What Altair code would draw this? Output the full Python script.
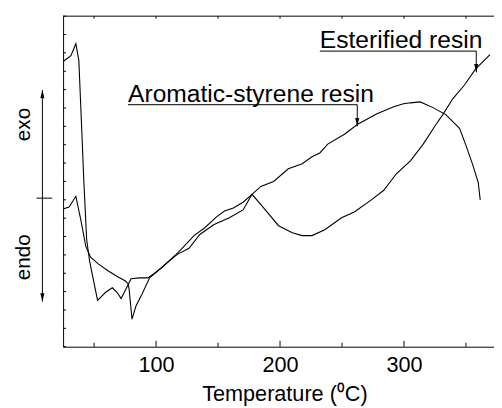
import altair as alt
import pandas as pd

# ---- data (temperature in degC, signal in tick units) ----
arom_t = [25.0, 31.3, 35.3, 37.7, 40.1, 41.7, 44.0, 46.4, 52.8, 59.1, 64.7, 68.7, 71.8, 75.8,
          79.8, 86.9, 93.3, 98.0, 105.2, 115.5, 121.0, 130.6, 139.3, 148.8, 155.2, 162.3,
          170.2, 177.4, 184.5, 194.8, 206.7, 217.9, 225.8, 232.1, 238.5, 252.0, 262.3,
          278.2, 291.7, 299.6, 305.2, 313.1, 323.4, 333.7, 344.8, 349.6, 355.2, 359.9, 361.5]
arom_v = [15.53, 15.85, 16.50, 15.59, 11.73, 9.05, 5.84, 4.66, 2.52, 2.95, 3.21, 2.95, 2.62, 3.16,
          3.70, 3.75, 3.75, 3.96, 4.34, 4.98, 5.36, 6.05, 6.48, 7.07, 7.39, 7.55,
          7.87, 8.30, 8.73, 9.00, 9.69, 9.96, 10.34, 10.55, 11.03, 11.57, 12.10,
          12.69, 13.07, 13.23, 13.28, 13.33, 13.02, 12.64, 11.89, 11.03, 9.96, 8.94, 7.98]

ester_t = [25.0, 29.8, 35.3, 39.3, 43.3, 47.2, 53.6, 61.5, 69.4, 75.0, 77.4, 78.2, 80.6, 83.7,
           88.5, 94.8, 101.2, 107.5, 117.1, 126.6, 135.3, 146.4, 159.1, 170.2, 177.4, 186.1,
           198.8, 209.9, 217.9, 225.8, 236.1, 244.0, 249.6, 259.9, 273.4, 283.7, 294.0,
           305.2, 315.5, 325.8, 331.3, 339.3, 348.8, 357.5, 364.7, 369.4]
ester_v = [7.50, 7.61, 8.19, 6.91, 5.46, 4.87, 4.50, 4.12, 3.80, 3.59, 3.43, 3.16, 1.50, 2.20,
           2.84, 3.75, 4.12, 4.50, 5.03, 5.36, 6.11, 6.64, 7.02, 7.45, 8.30, 7.61,
           6.59, 6.21, 6.05, 6.05, 6.37, 6.75, 7.02, 7.34, 7.98, 8.52, 9.43,
           10.12, 11.03, 12.10, 12.64, 13.50, 14.25, 15.10, 15.59, 15.91]

x_labels = [100, 200, 300]
x_minor = [50, 150, 250, 350]
top_ticks = [50, 100, 150, 200, 250, 300, 350]
y_ticks = list(range(0, 19))

labels = ["Aromatic-styrene resin", "Esterified resin"]
label_t = [77.4, 232.1]          # start of the underline
label_end_t = [262.3, 358.3]     # end of underline / arrow
label_v = [13.18, 16.1]          # underline level
label_tip = [12.0, 14.94]        # arrow tip on the curve

X_DOMAIN = [25, 372.6]
Y_DOMAIN = [0, 18]
FONT = "Liberation Sans"

xs = alt.Scale(domain=X_DOMAIN, nice=False, zero=False)
ys = alt.Scale(domain=Y_DOMAIN, nice=False, zero=False)

rows = []
for i, (t, v) in enumerate(zip(arom_t, arom_v)):
    rows.append({"series": "Aromatic-styrene resin", "t": t, "v": v, "i": i})
for i, (t, v) in enumerate(zip(ester_t, ester_v)):
    rows.append({"series": "Esterified resin", "t": t, "v": v, "i": i})
curves = pd.DataFrame(rows)

X_AXIS = alt.Axis(
    values=x_labels, ticks=False, grid=False, domainColor="black", domainWidth=1,
    labelFont=FONT, labelFontSize=22, labelColor="black", labelPadding=8,
    title="Temperature (⁰C)", titleFont=FONT, titleFontSize=22, titleFontWeight="normal",
    titleColor="black", titleY=55, titleBaseline="alphabetic", titleX=225, titleAlign="center")
Y_AXIS = alt.Axis(labels=False, ticks=False, grid=False, title=None,
                  domainColor="black", domainWidth=1)


def X(field):
    return alt.X(field, scale=xs, axis=X_AXIS)


def Y(field):
    return alt.Y(field, scale=ys, axis=Y_AXIS)


lines = alt.Chart(curves).mark_line(color="black", strokeWidth=1.1).encode(
    x=X("t:Q"), y=Y("v:Q"), detail="series:N", order="i:Q")

# inward ticks
left_t = alt.Chart(pd.DataFrame({"v": y_ticks})).mark_rule(color="black", strokeWidth=1).encode(
    y=Y("v:Q"), x=alt.value(0), x2=alt.value(3))
bot_major = alt.Chart(pd.DataFrame({"t": x_labels})).mark_rule(color="black", strokeWidth=1).encode(
    x=X("t:Q"), y=alt.value(336), y2=alt.value(330))
bot_minor = alt.Chart(pd.DataFrame({"t": x_minor})).mark_rule(color="black", strokeWidth=1).encode(
    x=X("t:Q"), y=alt.value(336), y2=alt.value(332))
top_t = alt.Chart(pd.DataFrame({"t": top_ticks})).mark_rule(color="black", strokeWidth=1).encode(
    x=X("t:Q"), y=alt.value(0), y2=alt.value(2.5))
top_line = alt.Chart(pd.DataFrame({"a": [0]})).mark_rule(color="black", strokeWidth=1).encode(
    x=alt.value(0), x2=alt.value(438), y=alt.value(0))

ann = pd.DataFrame({"label": labels, "t": label_t, "t2": label_end_t, "v": label_v, "tip": label_tip})
underline = alt.Chart(ann).mark_rule(color="#333", strokeWidth=1.2).encode(
    x=X("t:Q"), x2="t2:Q", y=Y("v:Q"))
stem = alt.Chart(ann).mark_rule(color="black", strokeWidth=1).encode(
    x=X("t2:Q"), y=Y("v:Q"), y2="tip:Q")
down_head = "M0,0L0.5,-2L-0.5,-2Z"
up_head = "M0,0L0.5,2L-0.5,2Z"
heads = alt.Chart(ann).mark_point(shape=down_head, filled=True, color="black", size=70, opacity=1,
                                  strokeWidth=0).encode(x=X("t2:Q"), y=Y("tip:Q"))
ann_text = alt.Chart(ann).mark_text(font=FONT, fontSize=25, color="black", align="left",
                                    baseline="alphabetic", dy=-3).encode(
    x=X("t:Q"), y=Y("v:Q"), text="label:N")

# exo / endo indicator
ind = pd.DataFrame({"t": [8.3], "mid": [8.09], "top": [13.98], "bot": [2.46],
                    "h1": [3.6], "h2": [16.3]})
ind_v = alt.Chart(ind).mark_rule(color="black", strokeWidth=1).encode(
    x=X("t:Q"), y=Y("bot:Q"), y2="top:Q")
ind_h = alt.Chart(ind).mark_rule(color="black", strokeWidth=1).encode(
    x=X("h1:Q"), x2="h2:Q", y=Y("mid:Q"))
ind_up = alt.Chart(ind).mark_point(shape=up_head, filled=True, color="black", size=70, opacity=1,
                                   strokeWidth=0).encode(x=X("t:Q"), y=Y("top:Q"))
ind_dn = alt.Chart(ind).mark_point(shape=down_head, filled=True, color="black", size=70, opacity=1,
                                   strokeWidth=0).encode(x=X("t:Q"), y=Y("bot:Q"))
side = pd.DataFrame({"t": [-6.3, -6.3], "v": [12.1, 4.87], "w": ["exo", "endo"]})
side_text = alt.Chart(side).mark_text(font=FONT, fontSize=21, color="black", angle=270,
                                      align="center", baseline="middle").encode(
    x=X("t:Q"), y=Y("v:Q"), text="w:N")

chart = alt.layer(
    lines, left_t, bot_major, bot_minor, top_t, top_line,
    underline, stem, heads, ann_text,
    ind_v, ind_h, ind_up, ind_dn, side_text,
).properties(
    width=438, height=336,
    autosize=alt.AutoSizeParams(type="none"),
    padding={"left": 56, "top": 5, "right": 0, "bottom": 59},
    background="white",
).configure_view(stroke=None)

chart.save("out.html", embed_options={"renderer": "svg", "actions": False})
